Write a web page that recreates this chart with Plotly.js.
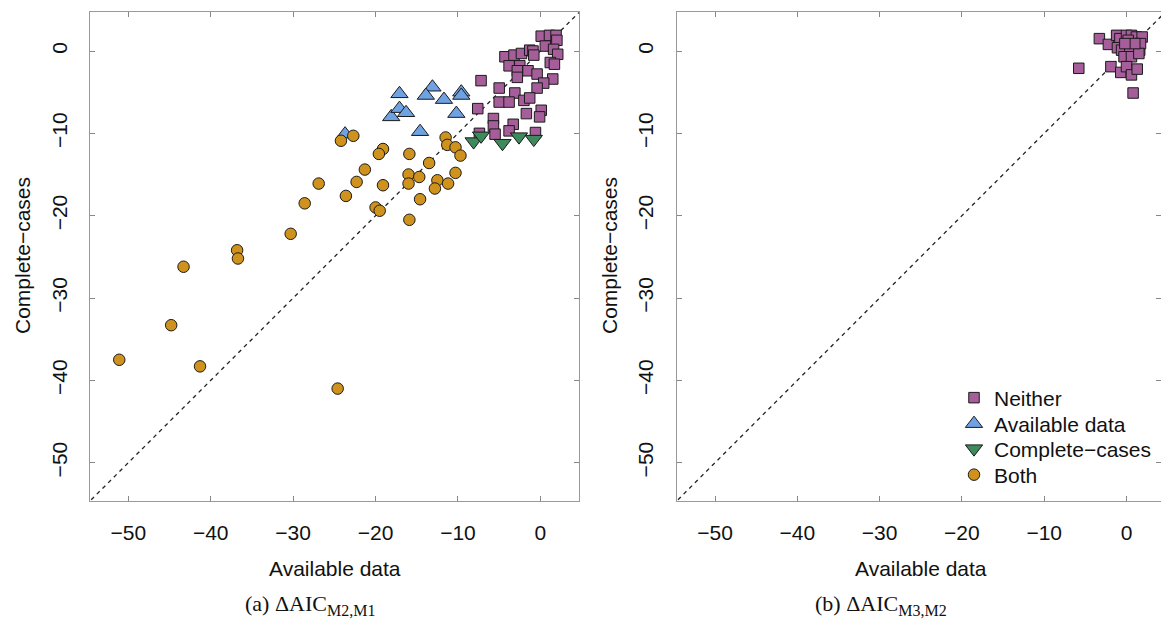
<!DOCTYPE html>
<html>
<head>
<meta charset="utf-8">
<script src="https://cdn.plot.ly/plotly-3.0.1.min.js"></script>
<style>html,body{margin:0;padding:0;background:#fff;}#chart{width:1161px;height:622px;}</style>
</head>
<body>
<div id="chart"></div>
<script>
// ---------- Panel (a): ΔAIC M2,M1 ----------
const neitherA_x = [0.1,1.1,1.9,2.0,0.6,1.6,2.1,1.2,1.7,-4.3,-3.2,-2.3,-1.3,-0.9,-0.8,-3.8,-2.5,-2.8,-2.8,-1.5,-0.4,1.5,0.4,-0.4,-7.2,-5.0,-3.1,-5.0,-3.8,-2.0,-1.3,-7.6,-1.7,0.1,-0.1,-5.7,-5.7,-3.3,-3.8,-5.5,-0.6,-7.4];
const neitherA_y = [1.8,1.9,1.9,1.3,0.6,0.2,-0.4,-1.4,-1.6,-0.7,-0.5,-0.3,0.1,0.0,-0.5,-1.8,-1.8,-2.4,-3.2,-2.4,-2.8,-3.4,-3.9,-4.5,-3.6,-4.5,-5.1,-6.2,-6.2,-6.0,-5.7,-7.0,-7.6,-7.2,-8.0,-8.2,-9.1,-8.9,-9.7,-10.1,-9.9,-10.0];

const availA_x = [-23.7,-17.1,-18.1,-17.1,-16.3,-13.1,-13.9,-11.7,-9.6,-9.6,-10.2,-14.6];
const availA_y = [-10.1,-5.2,-8.0,-7.0,-7.5,-4.4,-5.4,-5.9,-5.0,-5.4,-7.6,-9.8];

const completeA_x = [-8.1,-7.2,-4.6,-2.6,-0.8];
const completeA_y = [-11.0,-10.3,-11.2,-10.4,-10.7];

const bothA_x = [-24.2,-22.7,-19.1,-19.6,-15.9,-21.3,-26.9,-22.3,-19.1,-16.0,-16.0,-14.7,-23.6,-28.6,-20.0,-19.5,-15.9,-14.6,-13.5,-11.5,-11.3,-10.3,-9.7,-10.3,-12.5,-12.8,-11.2,-30.3,-36.8,-36.7,-43.3,-44.8,-51.1,-41.3,-24.6];
const bothA_y = [-10.9,-10.3,-11.9,-12.5,-12.5,-14.4,-16.1,-15.9,-16.3,-15.0,-16.1,-15.3,-17.6,-18.5,-19.0,-19.4,-20.5,-18.0,-13.6,-10.5,-11.4,-11.7,-12.7,-14.8,-15.7,-16.7,-16.1,-22.2,-24.2,-25.2,-26.2,-33.3,-37.5,-38.3,-41.0];

// ---------- Panel (b): ΔAIC M3,M2 ----------
const neitherB_x = [-5.8,-3.3,-2.2,-1.2,-0.8,0.0,0.6,1.2,1.9,-1.1,-0.6,0.4,1.6,1.7,-0.3,0.6,1.5,-1.9,-0.7,0.0,0.6,1.3,0.8,0.2,1.0,-0.2];
const neitherB_y = [-2.1,1.5,0.8,1.9,1.5,1.9,1.9,1.7,1.7,0.4,0.1,0.5,0.1,0.9,-0.7,-0.7,-0.3,-1.9,-2.6,-1.9,-2.9,-2.2,-5.1,1.3,0.9,0.9];

// reference line y = x (extent beyond the axes, clipped)
const diagLine = [-60, 10];

const tickVals = [-50,-40,-30,-20,-10,0];
const groupNames = ["Neither","Available data","Complete\u2212cases","Both"];
const captionA = "(a) \u0394AIC<sub><span style='font-size:16px'>M2,M1</span></sub>";
const captionB = "(b) \u0394AIC<sub><span style='font-size:16px'>M3,M2</span></sub>";
const xTitle = "Available data";
const yTitle = "Complete\u2212cases";

const colNeither = "#A65E9B", colAvail = "#6FA2E2", colComplete = "#3E8A5C", colBoth = "#CF931D";
const edge = {color:"#1a1a1a", width:1};

const traces = [
  {x: diagLine, y: diagLine, xaxis:"x", yaxis:"y", mode:"lines", showlegend:false, hoverinfo:"skip",
   line:{color:"#222", width:1.3, dash:"4px,4px"}},
  {x: diagLine, y: diagLine, xaxis:"x2", yaxis:"y2", mode:"lines", showlegend:false, hoverinfo:"skip",
   line:{color:"#222", width:1.3, dash:"4px,4px"}},
  {x: neitherA_x, y: neitherA_y, xaxis:"x", yaxis:"y", mode:"markers", name:groupNames[0], legend:"legend",
   marker:{symbol:"square", size:10.5, color:colNeither, line:edge}},
  {x: availA_x, y: availA_y, xaxis:"x", yaxis:"y", mode:"markers", name:groupNames[1], legend:"legend2",
   marker:{symbol:"triangle-up", size:15, color:colAvail, line:edge}},
  {x: completeA_x, y: completeA_y, xaxis:"x", yaxis:"y", mode:"markers", name:groupNames[2], legend:"legend3",
   marker:{symbol:"triangle-down", size:15, color:colComplete, line:edge}},
  {x: bothA_x, y: bothA_y, xaxis:"x", yaxis:"y", mode:"markers", name:groupNames[3], legend:"legend4",
   marker:{symbol:"circle", size:11.5, color:colBoth, line:edge}},
  {x: neitherB_x, y: neitherB_y, xaxis:"x2", yaxis:"y2", mode:"markers", name:groupNames[0], showlegend:false,
   marker:{symbol:"square", size:10.5, color:colNeither, line:edge}}
];

const W = 1161, H = 622;
const tickFont = {family:"Liberation Sans, Arial, sans-serif", size:21, color:"#111"};
function axisX(domain, range){
  return {domain:domain, range:range, tickvals:tickVals, ticks:"inside", ticklen:5, tickcolor:"#888",
    showline:true, linecolor:"#999", linewidth:1, mirror:"ticks", showgrid:false, zeroline:false,
    tickfont:tickFont, ticklabelstandoff:13, fixedrange:true};
}
function axisY(range, anchor){
  return {domain:[(H-501)/H, (H-12.3)/H], range:range, tickvals:tickVals, ticks:"inside", ticklen:5, tickcolor:"#888",
    showline:true, linecolor:"#999", linewidth:1, mirror:"ticks", showgrid:false, zeroline:false,
    tickfont:tickFont, tickangle:-90, ticklabelstandoff:14, anchor:anchor, fixedrange:true};
}
const legFont = {family:"Liberation Sans, Arial, sans-serif", size:21, color:"#111"};
function leg(yPx){
  return {x:954/W, xanchor:"left", y:(H-yPx)/H, yanchor:"middle", bgcolor:"rgba(0,0,0,0)", borderwidth:0, font:legFont};
}
const titleFont = {family:"Liberation Sans, Arial, sans-serif", size:21, color:"#111"};
const capFont = {family:"Liberation Serif, DejaVu Serif, serif", size:22, color:"#111"};
const layout = {
  width:W, height:H, margin:{l:0,r:0,t:0,b:0}, paper_bgcolor:"#fff", plot_bgcolor:"#fff",
  xaxis: axisX([90/W, 579.3/W], [-54.65, 4.72]),
  yaxis: axisY([-54.65, 4.70], "x"),
  xaxis2: Object.assign(axisX([676.5/W, 1], [-54.68, 4.19]), {anchor:"y2"}),
  yaxis2: axisY([-54.65, 4.70], "x2"),
  legend: leg(398), legend2: leg(424), legend3: leg(449), legend4: leg(475),
  annotations: [
    {text:xTitle, xref:"paper", yref:"paper", x:334.6/W, y:(H-568)/H, showarrow:false, font:titleFont, xanchor:"center", yanchor:"middle"},
    {text:xTitle, xref:"paper", yref:"paper", x:921/W, y:(H-568)/H, showarrow:false, font:titleFont, xanchor:"center", yanchor:"middle"},
    {text:yTitle, xref:"paper", yref:"paper", x:22/W, y:(H-256)/H, showarrow:false, font:titleFont, textangle:-90, xanchor:"center", yanchor:"middle"},
    {text:yTitle, xref:"paper", yref:"paper", x:609/W, y:(H-256)/H, showarrow:false, font:titleFont, textangle:-90, xanchor:"center", yanchor:"middle"},
    {text:captionA, xref:"paper", yref:"paper", x:310/W, y:(H-605)/H, showarrow:false, font:capFont, xanchor:"center", yanchor:"middle"},
    {text:captionB, xref:"paper", yref:"paper", x:881/W, y:(H-605)/H, showarrow:false, font:capFont, xanchor:"center", yanchor:"middle"}
  ]
};
Plotly.newPlot("chart", traces, layout, {displayModeBar:false, staticPlot:true});
</script>
</body>
</html>
